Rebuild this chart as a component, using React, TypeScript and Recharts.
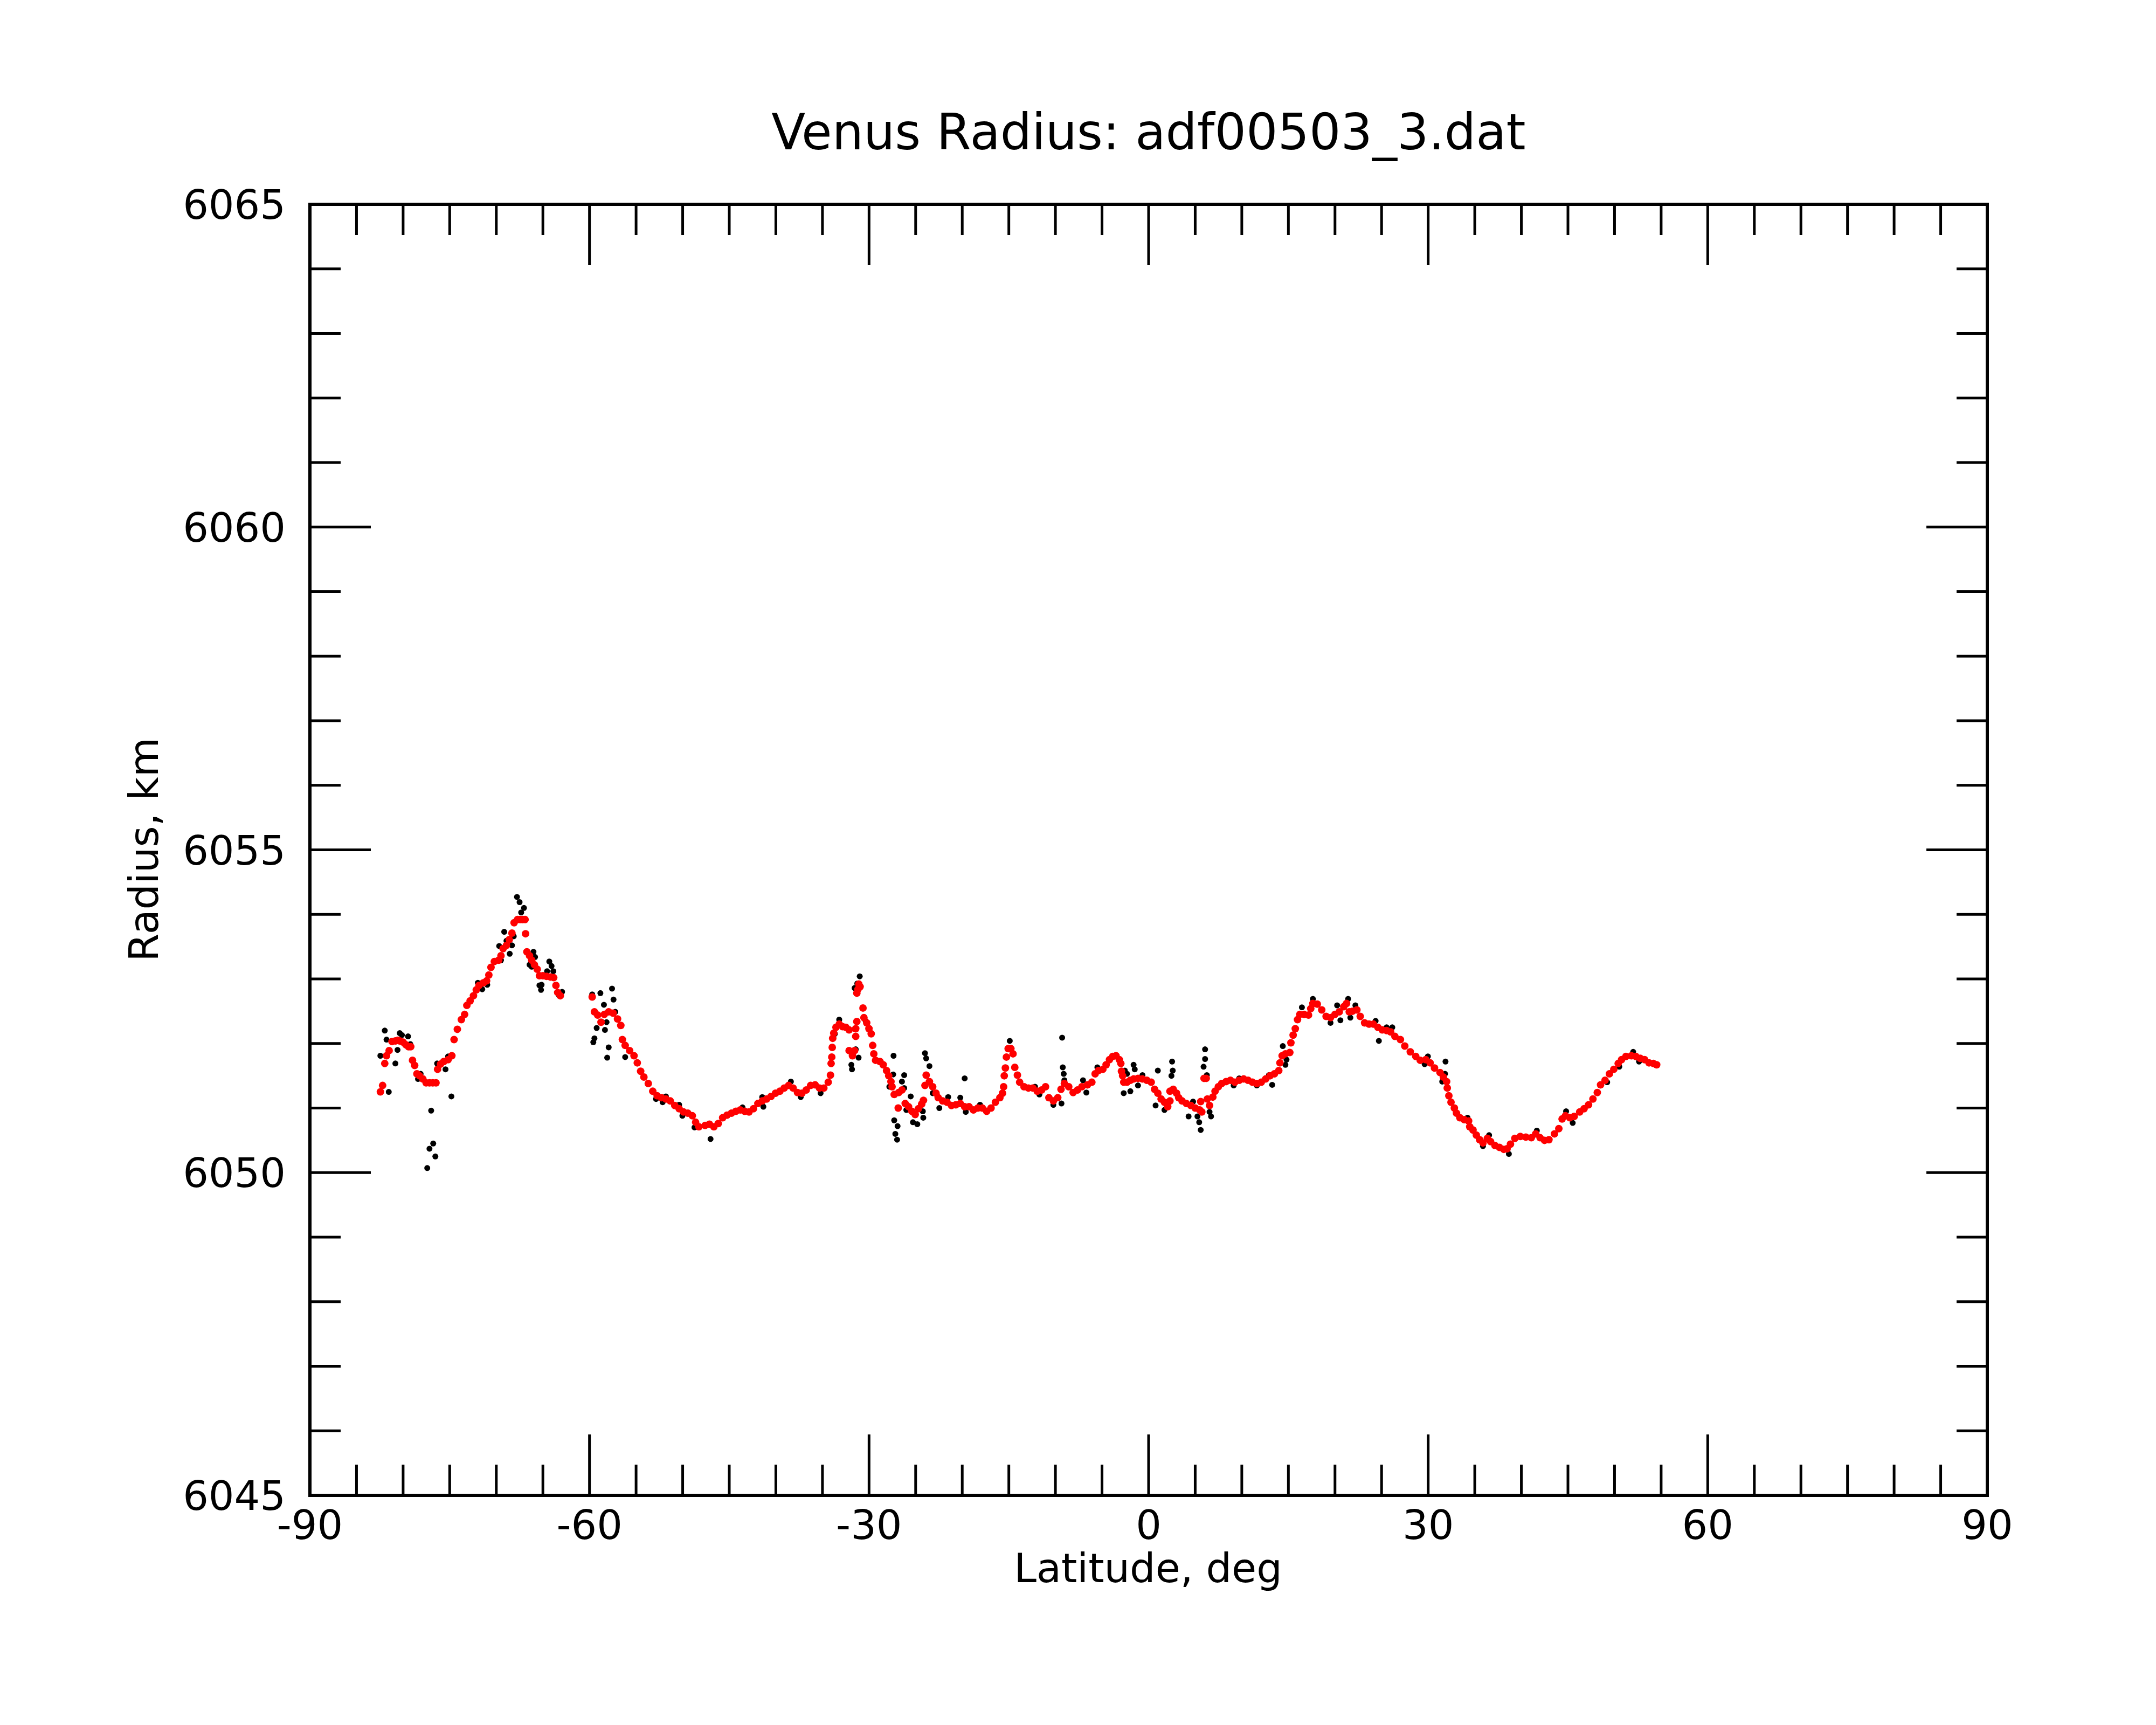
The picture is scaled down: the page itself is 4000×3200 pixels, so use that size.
import { ReferenceArea, Scatter, ScatterChart, XAxis, YAxis } from 'recharts'

// canvas and plot box (pixels)
const W = 4000
const H = 3200
const PLOT = { top: 379, right: 3687, bottom: 2774, left: 575 }
const AXIS_X_H = 120
const AXIS_Y_W = 120
const M = {
  top: PLOT.top,
  right: W - PLOT.right,
  bottom: H - PLOT.bottom - AXIS_X_H,
  left: PLOT.left - AXIS_Y_W,
}
const FONT = '"DejaVu Sans", Verdana, sans-serif'

const latTicks = [
  -90, -85, -80, -75, -70, -65, -60, -55, -50, -45, -40, -35, -30, -25, -20, -15, -10, -5, 0,
  5, 10, 15, 20, 25, 30, 35, 40, 45, 50, 55, 60, 65, 70, 75, 80, 85, 90,
]
const radiusTicks = [
  6045, 6046, 6047, 6048, 6049, 6050, 6051, 6052, 6053, 6054, 6055, 6056, 6057, 6058, 6059,
  6060, 6061, 6062, 6063, 6064, 6065,
]

// smoothed radius (red), [latitude deg, radius km]
const smoothed: [number, number][] = [
  [-82.44, 6051.25], [-82.2, 6051.35], [-81.97, 6051.69], [-81.78, 6051.81], [-81.5, 6051.89],
  [-81.19, 6052.03], [-80.83, 6052.04], [-80.55, 6052.05], [-80.36, 6052.04], [-80.0, 6052.02],
  [-79.7, 6051.98], [-79.42, 6051.95], [-79.18, 6051.95], [-78.99, 6051.74], [-78.76, 6051.66],
  [-78.52, 6051.53], [-78.24, 6051.5], [-77.88, 6051.45], [-77.53, 6051.39], [-77.17, 6051.39],
  [-76.82, 6051.39], [-76.47, 6051.39], [-76.3, 6051.6], [-75.99, 6051.68], [-75.64, 6051.72],
  [-75.17, 6051.75], [-74.77, 6051.81], [-74.53, 6052.06], [-74.18, 6052.22], [-73.75, 6052.37],
  [-73.4, 6052.45], [-73.16, 6052.59], [-72.81, 6052.66], [-72.45, 6052.74], [-72.15, 6052.83],
  [-71.86, 6052.9], [-71.39, 6052.94], [-71.04, 6052.97], [-70.8, 6053.06], [-70.57, 6053.18],
  [-70.21, 6053.27], [-69.74, 6053.29], [-69.5, 6053.36], [-69.27, 6053.47], [-68.91, 6053.52],
  [-68.61, 6053.61], [-68.32, 6053.71], [-68.09, 6053.87], [-67.73, 6053.92], [-67.45, 6053.92],
  [-67.18, 6053.92], [-66.91, 6053.92], [-66.86, 6053.7], [-66.72, 6053.42], [-66.43, 6053.36],
  [-66.2, 6053.29], [-65.91, 6053.22], [-65.61, 6053.15], [-65.37, 6053.05], [-65.0, 6053.05],
  [-64.6, 6053.04], [-64.2, 6053.03], [-63.84, 6053.02], [-63.6, 6052.9], [-63.41, 6052.79],
  [-63.13, 6052.74],
  [-59.71, 6052.72], [-59.47, 6052.49], [-59.12, 6052.44], [-58.76, 6052.33], [-58.41, 6052.45],
  [-57.94, 6052.49], [-57.46, 6052.47], [-56.99, 6052.38], [-56.64, 6052.28], [-56.47, 6052.06],
  [-56.17, 6051.97], [-55.69, 6051.89], [-55.22, 6051.81], [-54.87, 6051.7], [-54.51, 6051.57],
  [-54.16, 6051.48], [-53.69, 6051.38], [-53.21, 6051.26], [-52.74, 6051.19], [-52.27, 6051.16],
  [-51.8, 6051.14], [-51.33, 6051.11], [-50.85, 6051.04], [-50.38, 6050.99], [-49.91, 6050.94],
  [-49.44, 6050.92], [-48.96, 6050.88], [-48.61, 6050.78], [-48.26, 6050.71],
  [-47.6, 6050.73], [-47.13, 6050.75], [-46.65, 6050.71], [-46.18, 6050.76], [-45.71, 6050.85],
  [-45.24, 6050.89], [-44.77, 6050.92], [-44.29, 6050.95], [-43.82, 6050.97], [-43.35, 6050.95],
  [-42.88, 6050.94], [-42.4, 6050.99], [-41.93, 6051.07], [-41.46, 6051.11], [-40.99, 6051.14],
  [-40.52, 6051.18], [-40.04, 6051.23], [-39.57, 6051.26], [-39.1, 6051.31], [-38.63, 6051.35],
  [-38.15, 6051.31], [-37.68, 6051.24], [-37.21, 6051.23], [-36.74, 6051.28], [-36.27, 6051.35],
  [-35.79, 6051.36], [-35.32, 6051.31], [-34.85, 6051.31], [-34.38, 6051.4], [-34.14, 6051.51],
  [-34.07, 6051.69], [-34.0, 6051.79], [-33.95, 6051.94], [-33.9, 6052.08], [-33.79, 6052.16],
  [-33.55, 6052.25], [-33.2, 6052.3], [-32.84, 6052.26], [-32.49, 6052.25], [-32.14, 6052.21],
  [-32.14, 6051.89], [-31.78, 6051.81], [-31.55, 6051.89], [-31.43, 6052.11], [-31.43, 6052.23],
  [-31.31, 6052.34], [-31.31, 6052.78], [-31.19, 6052.84], [-31.1, 6052.92], [-30.96, 6052.88],
  [-30.65, 6052.55], [-30.55, 6052.4], [-30.25, 6052.32], [-30.01, 6052.23], [-29.77, 6052.15],
  [-29.61, 6051.97], [-29.49, 6051.84], [-29.3, 6051.74], [-28.83, 6051.72], [-28.48, 6051.67],
  [-28.12, 6051.58], [-27.89, 6051.5], [-27.65, 6051.41], [-27.53, 6051.33], [-27.3, 6051.21],
  [-26.82, 6051.24], [-26.47, 6051.28], [-26.87, 6051.0], [-26.12, 6051.07], [-25.76, 6051.02],
  [-25.41, 6050.95], [-25.05, 6050.9], [-24.7, 6050.99], [-24.35, 6051.06], [-24.16, 6051.12],
  [-24.0, 6051.35], [-23.87, 6051.51], [-23.52, 6051.41], [-23.17, 6051.33], [-22.81, 6051.23],
  [-22.58, 6051.16], [-22.1, 6051.11], [-21.63, 6051.09], [-21.16, 6051.04], [-20.69, 6051.05],
  [-20.21, 6051.07], [-19.74, 6051.02], [-19.27, 6051.02], [-18.8, 6050.97], [-18.32, 6051.0],
  [-17.85, 6051.0], [-17.38, 6050.95], [-16.91, 6051.0], [-16.44, 6051.09], [-15.96, 6051.16],
  [-15.68, 6051.23], [-15.56, 6051.33], [-15.49, 6051.5], [-15.37, 6051.62], [-15.26, 6051.79],
  [-15.07, 6051.92], [-14.78, 6051.92], [-14.55, 6051.84], [-14.36, 6051.63], [-14.08, 6051.51],
  [-13.84, 6051.4], [-13.37, 6051.33], [-12.9, 6051.31], [-12.42, 6051.31], [-11.95, 6051.26],
  [-11.48, 6051.28], [-11.06, 6051.33],
  [-10.7, 6051.16], [-10.22, 6051.11], [-9.75, 6051.16], [-9.4, 6051.29], [-9.04, 6051.38],
  [-8.57, 6051.33], [-8.1, 6051.24], [-7.63, 6051.28], [-7.16, 6051.33], [-6.56, 6051.36],
  [-6.09, 6051.4], [-5.74, 6051.53], [-5.38, 6051.58], [-4.91, 6051.6], [-4.56, 6051.67],
  [-4.2, 6051.75], [-3.85, 6051.8], [-3.5, 6051.81], [-3.14, 6051.75], [-2.98, 6051.69],
  [-2.91, 6051.57], [-2.79, 6051.5], [-2.67, 6051.4], [-2.32, 6051.4], [-1.96, 6051.43],
  [-1.61, 6051.45], [-1.14, 6051.46], [-0.66, 6051.45], [-0.19, 6051.43], [0.28, 6051.4],
  [0.64, 6051.29], [0.99, 6051.23], [1.34, 6051.14], [1.7, 6051.09], [2.05, 6051.02],
  [2.29, 6051.11], [2.29, 6051.26], [2.64, 6051.29], [3.0, 6051.23], [3.23, 6051.16],
  [3.59, 6051.11], [4.06, 6051.07], [4.53, 6051.04], [5.0, 6051.0], [5.48, 6050.97],
  [5.71, 6050.94], [5.59, 6051.1], [5.95, 6051.46], [6.18, 6051.46], [6.3, 6051.14],
  [6.54, 6051.04], [6.89, 6051.17], [7.13, 6051.26], [7.48, 6051.33], [7.84, 6051.38],
  [8.31, 6051.41], [8.78, 6051.43], [9.25, 6051.4], [9.72, 6051.43], [10.2, 6051.45],
  [10.67, 6051.43], [11.14, 6051.4], [11.61, 6051.38], [12.09, 6051.4], [12.56, 6051.45],
  [13.03, 6051.5], [13.5, 6051.53], [13.97, 6051.58], [14.09, 6051.7], [14.33, 6051.81],
  [14.68, 6051.84], [15.15, 6051.86], [15.27, 6052.01], [15.51, 6052.13], [15.74, 6052.23],
  [15.98, 6052.37], [16.22, 6052.45], [16.69, 6052.45], [17.16, 6052.44], [17.4, 6052.54],
  [17.63, 6052.62], [18.1, 6052.61], [18.58, 6052.52], [19.05, 6052.42], [19.52, 6052.4],
  [19.99, 6052.45], [20.46, 6052.49], [20.94, 6052.57], [21.24, 6052.62], [21.53, 6052.49],
  [21.88, 6052.5], [22.35, 6052.52], [22.71, 6052.42], [23.18, 6052.32], [23.65, 6052.3],
  [24.12, 6052.3], [24.6, 6052.25], [25.07, 6052.21], [25.54, 6052.2], [25.97, 6052.18],
  [26.43, 6052.11], [27.02, 6052.06], [27.49, 6051.96], [28.08, 6051.87], [28.67, 6051.8],
  [29.15, 6051.74], [29.74, 6051.75], [30.21, 6051.7], [30.68, 6051.62], [31.27, 6051.55],
  [31.63, 6051.48], [31.98, 6051.41], [32.05, 6051.31], [32.22, 6051.19], [32.45, 6051.09],
  [32.81, 6051.0], [33.04, 6050.92], [33.4, 6050.85], [33.87, 6050.82], [34.34, 6050.8],
  [34.46, 6050.71], [34.81, 6050.66], [35.17, 6050.58], [35.52, 6050.51], [35.88, 6050.46],
  [36.35, 6050.53], [36.7, 6050.48], [37.17, 6050.42], [37.65, 6050.39], [38.12, 6050.36],
  [38.47, 6050.37], [38.83, 6050.44], [39.3, 6050.53], [39.89, 6050.56], [40.48, 6050.55],
  [41.07, 6050.54], [41.54, 6050.6], [42.01, 6050.54], [42.49, 6050.5], [42.96, 6050.51],
  [43.55, 6050.6], [44.02, 6050.68], [44.37, 6050.83], [44.73, 6050.88], [45.2, 6050.85],
  [45.67, 6050.87], [46.26, 6050.94], [46.73, 6050.99], [47.21, 6051.05], [47.68, 6051.14],
  [48.15, 6051.24], [48.5, 6051.36], [48.98, 6051.43], [49.45, 6051.53], [49.92, 6051.6],
  [50.39, 6051.69], [50.75, 6051.75], [51.22, 6051.8], [51.81, 6051.81], [52.28, 6051.8],
  [52.75, 6051.77], [53.23, 6051.75], [53.7, 6051.7], [54.17, 6051.69], [54.52, 6051.67],
]

// raw radius (black), [latitude deg, radius km]
const raw: [number, number][] = [
  [-81.97, 6052.2], [-81.78, 6052.06], [-82.44, 6051.81], [-81.54, 6051.25], [-80.83, 6051.69],
  [-80.6, 6051.9], [-80.36, 6052.16], [-80.13, 6052.13], [-79.47, 6052.11], [-79.23, 6051.99],
  [-78.12, 6051.53], [-78.4, 6051.45], [-76.99, 6050.96], [-76.77, 6050.45], [-77.17, 6050.37],
  [-76.54, 6050.25], [-77.41, 6050.07], [-74.82, 6051.18], [-75.45, 6051.6], [-76.35, 6051.69],
  [-75.17, 6051.8], [-71.98, 6052.94], [-71.51, 6052.84], [-70.97, 6052.91], [-69.5, 6053.29],
  [-69.69, 6053.51], [-69.15, 6053.73], [-68.91, 6053.59], [-68.56, 6053.39], [-68.32, 6053.52],
  [-68.13, 6053.66], [-67.78, 6054.27], [-67.5, 6054.19], [-67.03, 6054.1], [-67.33, 6054.03],
  [-66.01, 6053.42], [-65.84, 6053.34], [-66.43, 6053.22], [-66.2, 6053.19], [-64.31, 6053.27],
  [-64.07, 6053.2], [-63.88, 6053.12], [-64.55, 6053.12], [-65.14, 6052.91], [-65.37, 6052.9],
  [-65.2, 6052.83], [-62.94, 6052.8], [-63.25, 6052.74], [-59.71, 6052.76], [-58.83, 6052.78],
  [-57.58, 6052.85], [-57.42, 6052.68], [-58.45, 6052.6], [-59.23, 6052.24], [-58.34, 6052.21],
  [-59.47, 6052.08], [-59.59, 6052.02], [-57.94, 6051.94], [-58.1, 6051.78], [-56.17, 6051.79],
  [-58.17, 6052.33], [-57.23, 6052.49], [-52.86, 6051.14], [-52.15, 6051.09], [-51.8, 6051.18],
  [-50.38, 6051.05], [-50.03, 6050.88], [-48.73, 6050.7],
  [-47.01, 6050.52], [-41.46, 6051.17], [-41.34, 6051.02], [-43.58, 6051.01], [-38.39, 6051.41],
  [-37.33, 6051.17], [-35.2, 6051.23], [-33.2, 6052.37], [-33.67, 6052.15], [-31.0, 6053.04],
  [-31.26, 6052.93], [-31.55, 6052.86], [-31.43, 6051.91], [-31.12, 6051.78], [-31.83, 6051.6],
  [-31.9, 6051.67], [-30.37, 6052.35], [-27.37, 6051.81], [-27.41, 6051.52], [-26.23, 6051.51],
  [-26.47, 6051.41], [-27.82, 6051.33], [-26.23, 6051.31], [-25.53, 6051.18], [-27.3, 6050.81],
  [-26.94, 6050.72], [-27.18, 6050.6], [-26.99, 6050.51], [-26.0, 6050.97], [-25.29, 6050.78],
  [-24.82, 6050.75], [-24.18, 6050.85], [-24.23, 6050.95], [-24.0, 6051.85], [-23.87, 6051.77],
  [-23.52, 6051.65], [-23.17, 6051.23], [-22.46, 6051.0], [-21.51, 6051.17], [-20.21, 6051.16],
  [-19.74, 6051.46], [-19.62, 6050.94], [-18.09, 6051.05], [-14.9, 6052.04], [-12.19, 6051.33],
  [-11.72, 6051.21],
  [-9.28, 6052.09], [-9.21, 6051.63], [-9.11, 6051.53], [-9.04, 6051.43], [-9.35, 6051.07],
  [-10.22, 6051.05], [-7.04, 6051.43], [-6.68, 6051.24], [-5.5, 6051.63], [-2.55, 6051.58],
  [-2.32, 6051.53], [-1.61, 6051.67], [-1.49, 6051.6], [-2.67, 6051.23], [-1.96, 6051.26],
  [-1.14, 6051.35], [-0.66, 6051.51], [0.99, 6051.58], [2.52, 6051.72], [2.59, 6051.58],
  [2.45, 6051.5], [0.75, 6051.04], [1.7, 6050.97], [4.29, 6050.87], [4.77, 6051.1],
  [6.06, 6051.91], [6.06, 6051.76], [5.9, 6051.64], [6.25, 6051.51], [5.43, 6050.78],
  [5.59, 6050.66], [5.24, 6050.87], [6.7, 6050.87], [6.54, 6050.94], [9.13, 6051.35],
  [9.72, 6051.46], [11.61, 6051.35], [13.26, 6051.36], [12.91, 6051.51], [14.4, 6051.96],
  [14.8, 6051.75], [14.68, 6051.67], [16.45, 6052.56], [17.63, 6052.69], [19.52, 6052.32],
  [20.23, 6052.59], [20.58, 6052.36], [21.41, 6052.69], [21.65, 6052.4], [22.19, 6052.59],
  [24.36, 6052.35], [24.71, 6052.04], [25.54, 6052.25],
  [26.15, 6052.25], [29.97, 6051.8], [29.62, 6051.68], [31.86, 6051.72], [31.81, 6051.53],
  [31.51, 6051.41], [34.22, 6050.85], [36.54, 6050.58], [35.88, 6050.41], [38.66, 6050.29],
  [41.66, 6050.65], [44.8, 6050.95], [45.51, 6050.77], [52.0, 6051.87], [52.63, 6051.72],
  [50.51, 6051.64], [49.21, 6051.4],
]

const MAJOR = 113
const MINOR = 57
const TICK_W = 5

function LatTick(props: any) {
  const { x, payload } = props
  const v = payload.value
  const major = v % 30 === 0
  const len = major ? MAJOR : MINOR
  const y = PLOT.bottom
  return (
    <g>
      <line x1={x} x2={x} y1={y} y2={y - len} stroke="#000" strokeWidth={TICK_W} />
      <line x1={x} x2={x} y1={PLOT.top} y2={PLOT.top + len} stroke="#000" strokeWidth={TICK_W} />
      {major && (
        <text x={x} y={y + 81} textAnchor="middle" fontSize={75} fontFamily={FONT} fill="#000">
          {v}
        </text>
      )}
    </g>
  )
}

function RadiusTick(props: any) {
  const { y, payload } = props
  const v = payload.value
  const major = v % 5 === 0
  const len = major ? MAJOR : MINOR
  const x = PLOT.left
  const right = PLOT.right
  return (
    <g>
      <line x1={x} x2={x + len} y1={y} y2={y} stroke="#000" strokeWidth={TICK_W} />
      <line x1={right} x2={right - len} y1={y} y2={y} stroke="#000" strokeWidth={TICK_W} />
      {major && (
        <text x={x - 45} y={y} dy="0.36em" textAnchor="end" fontSize={75} fontFamily={FONT} fill="#000">
          {v}
        </text>
      )}
    </g>
  )
}

const dot = (color: string, r: number) => (p: any) => <circle cx={p.cx} cy={p.cy} r={r} fill={color} />

export default function App() {
  const rawData = raw.map(([lat, km]) => ({ lat, km }))
  const smoothData = smoothed.map(([lat, km]) => ({ lat, km }))
  return (
    <div style={{ position: 'absolute', left: 0, top: 0, width: W, height: H, background: '#fff' }}>
      <ScatterChart width={W} height={H} margin={M}>
        <XAxis
          type="number"
          dataKey="lat"
          domain={[-90, 90]}
          ticks={latTicks}
          interval={0}
          allowDataOverflow
          height={AXIS_X_H}
          tickSize={0}
          tickMargin={0}
          axisLine={false}
          tickLine={false}
          tick={LatTick}
        />
        <YAxis
          type="number"
          dataKey="km"
          domain={[6045, 6065]}
          ticks={radiusTicks}
          interval={0}
          allowDataOverflow
          width={AXIS_Y_W}
          tickSize={0}
          tickMargin={0}
          axisLine={false}
          tickLine={false}
          tick={RadiusTick}
        />
        <Scatter data={rawData} shape={dot('#000', 5.5)} isAnimationActive={false} />
        <Scatter data={smoothData} shape={dot('#ff0000', 7)} isAnimationActive={false} />
        <ReferenceArea
          x1={-90}
          x2={90}
          y1={6045}
          y2={6065}
          fill="none"
          stroke="#000"
          strokeWidth={6}
          ifOverflow="visible"
        />
      </ScatterChart>
      <svg
        width={W}
        height={H}
        style={{ position: 'absolute', left: 0, top: 0, pointerEvents: 'none' }}
        fontFamily={FONT}
      >
        <text x={2131} y={277} textAnchor="middle" fontSize={92} fill="#000">
          Venus Radius: adf00503_3.dat
        </text>
        <text x={2130} y={2935} textAnchor="middle" fontSize={75} fill="#000">
          Latitude, deg
        </text>
        <text transform="translate(293 1576) rotate(-90)" textAnchor="middle" fontSize={75} fill="#000">
          Radius, km
        </text>
      </svg>
    </div>
  )
}
